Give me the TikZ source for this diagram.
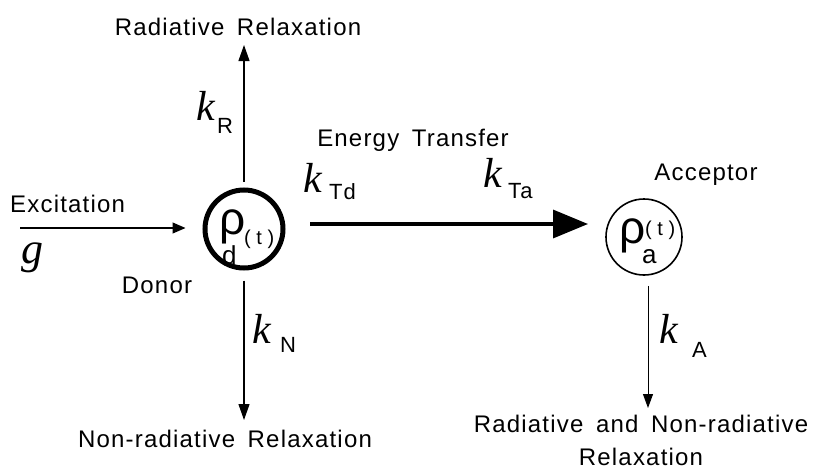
\documentclass[tikz,border=0pt]{standalone}
\usepackage{fontspec}
\setmainfont{Liberation Sans}
\newfontfamily\lab[LetterSpace=5,WordSpace=1.6]{Liberation Sans}
\newfontfamily\kfont{Liberation Serif}
\usetikzlibrary{arrows.meta}
\begin{document}
\begin{tikzpicture}[x=1pt,y=-1pt,
  txt/.style={font=\lab\fontsize{24}{30}\selectfont, inner sep=0pt, align=center},
  ksym/.style={font=\kfont\itshape\fontsize{42}{42}\selectfont, inner sep=0pt, anchor=base west},
  ksub/.style={font=\lab\fontsize{22}{22}\selectfont, inner sep=0pt, anchor=base west},
  rho/.style={font=\fontsize{46}{46}\selectfont, inner sep=0pt, anchor=base west},
  rsub/.style={font=\fontsize{26}{26}\selectfont, inner sep=0pt, anchor=base west},
  rt/.style={font=\fontsize{20}{20}\selectfont, inner sep=0pt, anchor=base west},
  thin arrow/.style={line width=1.2pt, -{Triangle[length=16pt,width=11pt]}},
  big arrow/.style={line width=3.4pt, -{Triangle[length=35pt,width=28pt]}}]
\useasboundingbox (0,0) rectangle (816,471);
\node[circle, draw, line width=5pt, minimum size=78pt, inner sep=0pt] (donor) at (244,229) {};
\node[circle, draw, line width=1.6pt, minimum size=76pt, inner sep=0pt] (acceptor) at (644,237) {};
% rho labels
\node[rho] (rhod) at (219,234) {ρ};
\node[rsub] (dd) at (222,264) {d};
\node[rt] (td) at (244,244) {( t )};
\node[rho] (rhoa) at (619,243) {ρ};
\node[rsub] (aa) at (642,263) {a};
\node[rt] (ta) at (645,235) {( t )};
% text
\node[txt, anchor=base] (radrel) at (238,35) {Radiative Relaxation};
\node[txt, anchor=base] (nonrad) at (225,447) {Non-radiative Relaxation};
\node[txt, anchor=base] (et) at (413,146) {Energy Transfer};
\node[txt, anchor=base] (acc) at (706,180) {Acceptor};
\node[txt, anchor=base west] (excit) at (10,212) {Excitation};
\node[txt, anchor=base] (donorlbl) at (157,293) {Donor};
\node[txt, anchor=north, font=\lab\fontsize{24}{33}\selectfont] (bothrel) at (641,415) {Radiative and Non-radiative\\Relaxation};
\node[inner sep=0pt, anchor=base west, font=\kfont\itshape\fontsize{44}{44}\selectfont] (g) at (21,263) {g};
\coordinate (exstart) at (20,228);
\coordinate (upend) at (244,45);
\coordinate (downend) at (244,420);
\coordinate (adownend) at (648,408);
\coordinate (etstart) at (310,224);
\coordinate (etend) at (588,224);
% k labels
\node[ksym] (kR) at (196,120) {k};
\node[ksub] (kRs) at (217,133) {R};
\node[ksym] (kN) at (252,343) {k};
\node[ksub] (kNs) at (280,352) {N};
\node[ksym] (kTd) at (303,192) {k};
\node[ksub] (kTds) at (329,199) {Td};
\node[ksym] (kTa) at (483,187) {k};
\node[ksub] (kTas) at (508,198) {Ta};
\node[ksym] (kA) at (659,343) {k};
\node[ksub] (kAs) at (692,357) {A};
% arrows
\draw[line width=1.1pt, -{Triangle[length=13pt,width=11pt]}, shorten >=17pt] (exstart) -- (exstart -| donor.west);
\draw[thin arrow, shorten <=6pt] (donor.north) -- (upend);
\draw[thin arrow, shorten <=10pt] (donor.south) -- (downend);
\draw[big arrow] (etstart) -- (etend);
\draw[line width=1pt, -{Triangle[length=14pt,width=10pt]}, shorten <=10pt] (acceptor.south -| adownend) -- (adownend);
\end{tikzpicture}
\end{document}
